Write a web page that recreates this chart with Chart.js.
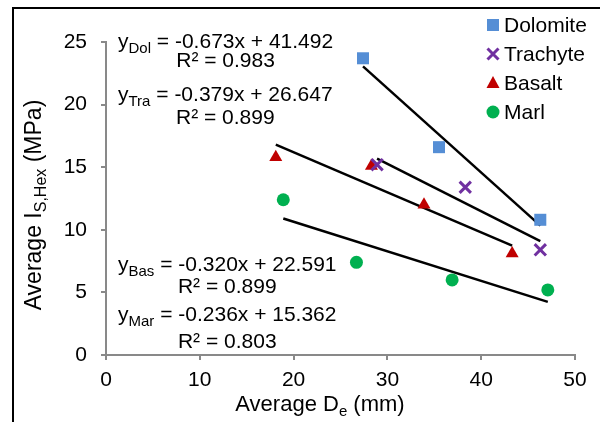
<!DOCTYPE html>
<html>
<head>
<meta charset="utf-8">
<script src="https://cdn.jsdelivr.net/npm/chart.js@4.4.1/dist/chart.umd.min.js"></script>
<style>
  html, body { margin: 0; padding: 0; background: #fff; }
</style>
</head>
<body>
<canvas id="my-chart" width="600" height="422"></canvas>
<script>
'use strict';

// ***************** DATA ***************** //

let rockNames = ['Dolomite', 'Trachyte', 'Basalt', 'Marl'];
let rockTags = ['Dol', 'Tra', 'Bas', 'Mar'];

let dolomiteX = [27.4, 35.5, 46.3];
let dolomiteY = [23.7, 16.6, 10.8];
let trachyteX = [28.9, 38.3, 46.3];
let trachyteY = [15.2, 13.4, 8.4];
let basaltX = [18.1, 28.3, 33.9, 43.3];
let basaltY = [15.8, 15.1, 12.0, 8.1];
let marlX = [18.9, 26.7, 36.9, 47.1];
let marlY = [12.4, 7.4, 6.0, 5.2];

let fitSlopes = [-0.673, -0.379, -0.320, -0.236];
let fitIntercepts = [41.492, 26.647, 22.591, 15.362];
let fitR2 = [0.983, 0.899, 0.899, 0.803];

let xTicks = [0, 10, 20, 30, 40, 50];
let yTicks = [0, 5, 10, 15, 20, 25];

// ***************** STYLE ***************** //

let fontFamily = '"Liberation Sans", Arial, sans-serif';
let axisGray = '#898989';

let rockColors = ['#558ED5', '#7030A0', '#C00000', '#00B050'];
let rockStyles = ['rect', 'crossRot', 'triangle', 'circle'];
let rockRadius = [8.5, 8, 7.5, 6.5];

// ***************** HELPERS ***************** //

function toPoints(xs, ys) {
  let pts = [];
  for (let i = 0; i < xs.length; i++) {
    pts.push({ x: xs[i], y: ys[i] });
  }
  return pts;
}

function trendPoints(xs, k) {
  let lo = Math.min(...xs);
  let hi = Math.max(...xs);
  return [
    { x: lo, y: fitSlopes[k] * lo + fitIntercepts[k] },
    { x: hi, y: fitSlopes[k] * hi + fitIntercepts[k] }
  ];
}

// draws text made of normal + subscript parts
function drawRich(ctx, parts, x, y, align, size, subSize) {
  let mainFont = size + 'px ' + fontFamily;
  let subFont = subSize + 'px ' + fontFamily;
  let total = 0;
  for (let p of parts) {
    ctx.font = p.sub ? subFont : mainFont;
    p.w = ctx.measureText(p.text).width;
    total += p.w;
  }
  let cx = align === 'center' ? x - total / 2 : x;
  ctx.textAlign = 'left';
  ctx.textBaseline = 'alphabetic';
  for (let p of parts) {
    ctx.font = p.sub ? subFont : mainFont;
    ctx.fillText(p.text, cx, p.sub ? y + 5 : y);
    cx += p.w;
  }
  return total;
}

function drawMarker(ctx, style, color, x, y) {
  ctx.save();
  ctx.fillStyle = color;
  ctx.strokeStyle = color;
  if (style === 'rect') {
    ctx.fillRect(x - 6, y - 6, 12, 12);
  } else if (style === 'crossRot') {
    ctx.lineWidth = 3;
    ctx.beginPath();
    ctx.moveTo(x - 5.5, y - 5.5);
    ctx.lineTo(x + 5.5, y + 5.5);
    ctx.moveTo(x + 5.5, y - 5.5);
    ctx.lineTo(x - 5.5, y + 5.5);
    ctx.stroke();
  } else if (style === 'triangle') {
    ctx.beginPath();
    ctx.moveTo(x, y - 7);
    ctx.lineTo(x + 6.5, y + 5);
    ctx.lineTo(x - 6.5, y + 5);
    ctx.closePath();
    ctx.fill();
  } else {
    ctx.beginPath();
    ctx.arc(x, y, 6.5, 0, Math.PI * 2);
    ctx.fill();
  }
  ctx.restore();
}

// ***************** DATASETS ***************** //

let seriesX = [dolomiteX, trachyteX, basaltX, marlX];
let seriesY = [dolomiteY, trachyteY, basaltY, marlY];

let datasets = [];

for (let k = 0; k < rockNames.length; k++) {
  datasets.push({
    type: 'line',
    label: rockNames[k] + ' fit',
    data: trendPoints(seriesX[k], k),
    borderColor: '#000',
    borderWidth: 2.5,
    pointRadius: 0,
    fill: false,
    order: 2
  });
}

for (let k = 0; k < rockNames.length; k++) {
  datasets.push({
    type: 'scatter',
    label: rockNames[k],
    data: toPoints(seriesX[k], seriesY[k]),
    pointStyle: rockStyles[k],
    pointRadius: rockRadius[k],
    backgroundColor: rockColors[k],
    borderColor: rockColors[k],
    borderWidth: rockStyles[k] === 'crossRot' ? 3 : 0,
    order: 1
  });
}

// ***************** EXTRA DRAWING ***************** //

let extrasPlugin = {
  id: 'extras',
  beforeDraw(chart) {
    let ctx = chart.ctx;
    ctx.save();
    ctx.fillStyle = '#fff';
    ctx.fillRect(0, 0, chart.width, chart.height);
    ctx.restore();
  },
  afterDraw(chart) {
    let ctx = chart.ctx;
    ctx.save();
    ctx.fillStyle = '#000';

    // frame
    ctx.strokeStyle = '#000';
    ctx.lineWidth = 2;
    ctx.beginPath();
    ctx.moveTo(13, 422);
    ctx.lineTo(13, 8);
    ctx.lineTo(600, 8);
    ctx.stroke();

    // equations
    let eqBase = [48, 101, 271, 321];
    let r2Base = [67, 124, 293, 348];
    for (let k = 0; k < rockTags.length; k++) {
      let rest = ' = ' + fitSlopes[k].toFixed(3) + 'x + ' + fitIntercepts[k].toFixed(3);
      let w = drawRich(ctx, [
        { text: 'y' },
        { text: rockTags[k], sub: true },
        { text: rest }
      ], 118, eqBase[k], 'left', 21, 15);
      drawRich(ctx, [{ text: 'R\u00B2 = ' + fitR2[k].toFixed(3) }], 118 + w / 2, r2Base[k], 'center', 21, 15);
    }

    // axis titles
    drawRich(ctx, [
      { text: 'Average D' },
      { text: 'e', sub: true },
      { text: ' (mm)' }
    ], 320, 411, 'center', 22, 15);

    ctx.save();
    ctx.translate(41, 205);
    ctx.rotate(-Math.PI / 2);
    drawRich(ctx, [
      { text: 'Average I' },
      { text: 'S,Hex', sub: true },
      { text: ' (MPa)' }
    ], 0, 0, 'center', 23, 16);
    ctx.restore();

    // legend
    let rowY = [25, 54, 83, 112];
    for (let k = 0; k < rockNames.length; k++) {
      drawMarker(ctx, rockStyles[k], rockColors[k], 493, rowY[k]);
      drawRich(ctx, [{ text: rockNames[k] }], 504, rowY[k] + 7, 'left', 21, 15);
    }

    ctx.restore();
  }
};

// ***************** CHART ***************** //

let ctx = document.getElementById('my-chart').getContext('2d');

let myChartObj = {
  type: 'scatter',
  data: { datasets: datasets },
  options: {
    responsive: false,
    animation: false,
    devicePixelRatio: 1,
    layout: { padding: { left: 0, right: 25, top: 42, bottom: 0 } },
    plugins: {
      legend: { display: false },
      tooltip: { enabled: false }
    },
    scales: {
      x: {
        type: 'linear',
        min: xTicks[0],
        max: xTicks[xTicks.length - 1],
        afterBuildTicks: (scale) => { scale.ticks = xTicks.map(v => ({ value: v })); },
        afterFit: (scale) => { scale.height = 67; },
        grid: { drawOnChartArea: false, drawTicks: true, tickLength: 5, color: axisGray, lineWidth: 2 },
        border: { color: axisGray, width: 2 },
        ticks: { color: '#000', font: { family: fontFamily, size: 21 }, padding: 8, maxRotation: 0 }
      },
      y: {
        type: 'linear',
        min: yTicks[0],
        max: yTicks[yTicks.length - 1],
        afterBuildTicks: (scale) => { scale.ticks = yTicks.map(v => ({ value: v })); },
        afterFit: (scale) => { scale.width = 106; },
        grid: { drawOnChartArea: false, drawTicks: true, tickLength: 5, color: axisGray, lineWidth: 2 },
        border: { color: axisGray, width: 2 },
        ticks: { color: '#000', font: { family: fontFamily, size: 21 }, padding: 14 }
      }
    }
  },
  plugins: [extrasPlugin]
};

new Chart(ctx, myChartObj);
</script>
</body>
</html>
